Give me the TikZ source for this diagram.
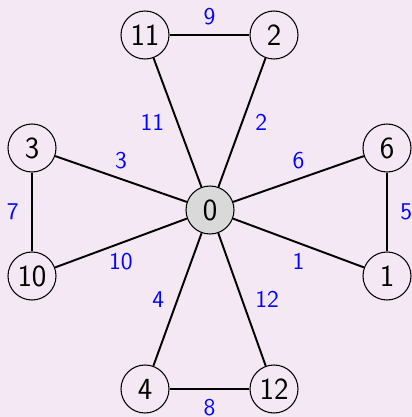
\documentclass[tikz,border=0pt]{standalone}
\usepackage{fontspec}
\usepackage{xcolor}
\usepackage{tikz}
\definecolor{bgpink}{RGB}{243,232,243}
\definecolor{hubgray}{RGB}{217,217,217}

\begin{document}
\begin{tikzpicture}[
    vert/.style={circle, draw, line width=0.6pt, minimum size=0.96cm, inner sep=0pt,
      font=\fontsize{17.5}{20}\selectfont\sffamily},
    link/.style={line width=1.1pt},
    lbl/.style={text=blue, inner xsep=7pt, inner ysep=5pt,
      font=\fontsize{13.7}{16}\selectfont\sffamily}]
  \useasboundingbox (-4.2,-4.14) rectangle (4.04,4.2);
  \fill[bgpink] (-4.2,-4.14) rectangle (4.04,4.2);
  \node[vert, fill=hubgray] (n0) at (0,0) {0};
  \node[vert] (n11) at (-1.30,3.50) {11};
  \node[vert] (n2) at (1.28,3.50) {2};
  \node[vert] (n3) at (-3.56,1.24) {3};
  \node[vert] (n6) at (3.54,1.24) {6};
  \node[vert] (n10) at (-3.56,-1.32) {10};
  \node[vert] (n1) at (3.54,-1.32) {1};
  \node[vert] (n4) at (-1.30,-3.58) {4};
  \node[vert] (n12) at (1.28,-3.58) {12};
  \draw[link] (n0) -- node[lbl, left] {11} (n11);
  \draw[link] (n0) -- node[lbl, right] {2} (n2);
  \draw[link] (n0) -- node[lbl, above] {3} (n3);
  \draw[link] (n0) -- node[lbl, above] {6} (n6);
  \draw[link] (n0) -- node[lbl, below] {10} (n10);
  \draw[link] (n0) -- node[lbl, below] {1} (n1);
  \draw[link] (n0) -- node[lbl, left] {4} (n4);
  \draw[link] (n0) -- node[lbl, right] {12} (n12);
  \draw[link] (n11) -- node[lbl, above] {9} (n2);
  \draw[link] (n4) -- node[lbl, below] {8} (n12);
  \draw[link] (n3) -- node[lbl, left] {7} (n10);
  \draw[link] (n6) -- node[lbl, right] {5} (n1);
\end{tikzpicture}
\end{document}
